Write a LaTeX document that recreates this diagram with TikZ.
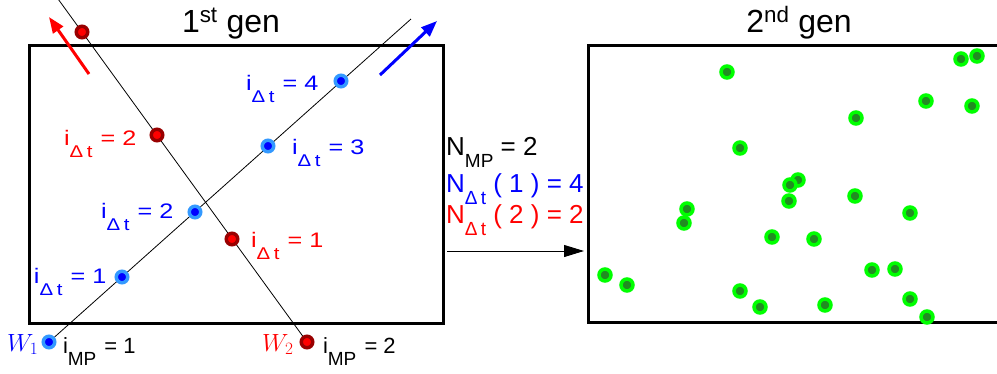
\documentclass[tikz,border=0pt]{standalone}
\usepackage{fontspec}
\setmainfont{Liberation Sans}
\usetikzlibrary{arrows.meta,backgrounds}
\definecolor{lblue}{rgb}{0.2,0.6,1}
\definecolor{dred}{rgb}{0.6,0,0}
\definecolor{dgreen}{rgb}{0.13,0.55,0.13}
\definecolor{bgreen}{rgb}{0,1,0}
\newcommand\mysub[2][15]{\raisebox{-12pt}{\fontsize{#1}{#1}\selectfont #2}}
\newcommand\idt[1]{\scalebox{1.2}[1]{\fontsize{21}{21}\selectfont i\mysub[17]{Δ\hspace{3pt}t}\hspace{1pt} = #1}}
\newcommand\imp[1]{\fontsize{22}{22}\selectfont i\mysub[19]{MP}\hspace{2pt} = #1}
\tikzset{
  bdot/.style={circle,fill=blue,draw=lblue,line width=3.5pt,inner sep=0pt,minimum size=11.5pt},
  rdot/.style={circle,fill=red,draw=dred,line width=3.5pt,inner sep=0pt,minimum size=11.5pt},
  gdot/.style={circle,fill=dgreen,draw=bgreen,line width=3.5pt,inner sep=0pt,minimum size=12pt},
  frame/.style={draw=black,line width=2.5pt},
  traj/.style={draw=black,line width=0.8pt},
  lbl/.style={anchor=base west,inner sep=0pt,outer sep=0pt},
  ttl/.style={anchor=base,inner sep=0pt,font=\fontsize{32}{32}\selectfont},
  mid/.style={anchor=base west,inner sep=0pt,font=\fontsize{26}{26}\selectfont},
}
\begin{document}
\begin{tikzpicture}[x=1pt,y=-1pt]
\useasboundingbox (0,0) rectangle (997,373);
% frames
\node[frame,rectangle,minimum width=414pt,minimum height=278pt,anchor=north west,inner sep=0pt] (box1) at (28,44) {};
\node[frame,rectangle,minimum width=420pt,minimum height=277pt,anchor=north west,inner sep=0pt] (box2) at (587,44) {};
% titles
\node[ttl] (t1) at (231,32) {1\textsuperscript{st} gen};
\node[ttl] (t2) at (799,32) {2\textsuperscript{nd} gen};
% blue trajectory dots
\node[bdot] (w1) at (49,342) {};
\node[bdot] (b1) at (122,277) {};
\node[bdot] (b2) at (195,212) {};
\node[bdot] (b3) at (268,146) {};
\node[bdot] (b4) at (341,81) {};
\coordinate (bend) at (411,19);
% red trajectory dots
\node[rdot] (w2) at (307,342) {};
\node[rdot] (r1) at (232,239) {};
\node[rdot] (r2) at (157,135) {};
\node[rdot] (r3) at (82,32) {};
\coordinate (rend) at (58.8,0);
\begin{scope}[on background layer]
\fill[white] (0,0) rectangle (997,373);
\draw[traj] (w1.center) -- (bend);
\draw[traj] (w2.center) -- (rend);
\end{scope}
% direction arrows
\coordinate (ra0) at (89,74); \coordinate (ra1) at (49,17);
\coordinate (ba0) at (380,75); \coordinate (ba1) at (437,21);
\draw[red,line width=3pt,-{Triangle[length=16pt,width=12pt]}] (ra0) -- (ra1);
\draw[blue,line width=3pt,-{Triangle[length=16pt,width=12pt]}] (ba0) -- (ba1);
% labels
\node[lbl,blue] (lb4) at (246,90) {\idt{4}};
\node[lbl,blue] (lb3) at (292,154) {\idt{3}};
\node[lbl,blue] (lb2) at (101,218) {\idt{2}};
\node[lbl,blue] (lb1) at (34,283) {\idt{1}};
\node[lbl,red] (lr2) at (64,145) {\idt{2}};
\node[lbl,red] (lr1) at (251,247) {\idt{1}};
\node[lbl,blue] (lw1) at (7,351) {\fontsize{25}{25}\selectfont$W_1$};
\node[lbl,red] (lw2) at (262,351) {\fontsize{25}{25}\selectfont$W_2$};
\node[lbl] (lm1) at (63,353) {\imp{1}};
\node[lbl] (lm2) at (323,353) {\imp{2}};
% middle text
\node[mid] (n1) at (446,155) {N\mysub[19]{MP} = 2};
\node[mid,blue] (n2) at (446,192) {N\mysub[19]{Δ\,t} ( 1 ) = 4};
\node[mid,red] (n3) at (446,223) {N\mysub[19]{Δ\,t} ( 2 ) = 2};
\coordinate (a0) at (447,251); \coordinate (a1) at (584,251);
\draw[line width=1pt,-{Triangle[length=20pt,width=12pt]}] (a0) -- (a1);
% second generation
\foreach \x/\y [count=\i] in {727/72,961/59,977/56,926/101,972/106,856/118,740/148,798/180,790/185,789/201,855/196,910/213,687/209,684/223,772/237,814/239,605/275,627/285,872/270,895/269,740/291,760/307,825/305,910/299,927/317}
  \node[gdot] (g\i) at (\x,\y) {};
\end{tikzpicture}
\end{document}
